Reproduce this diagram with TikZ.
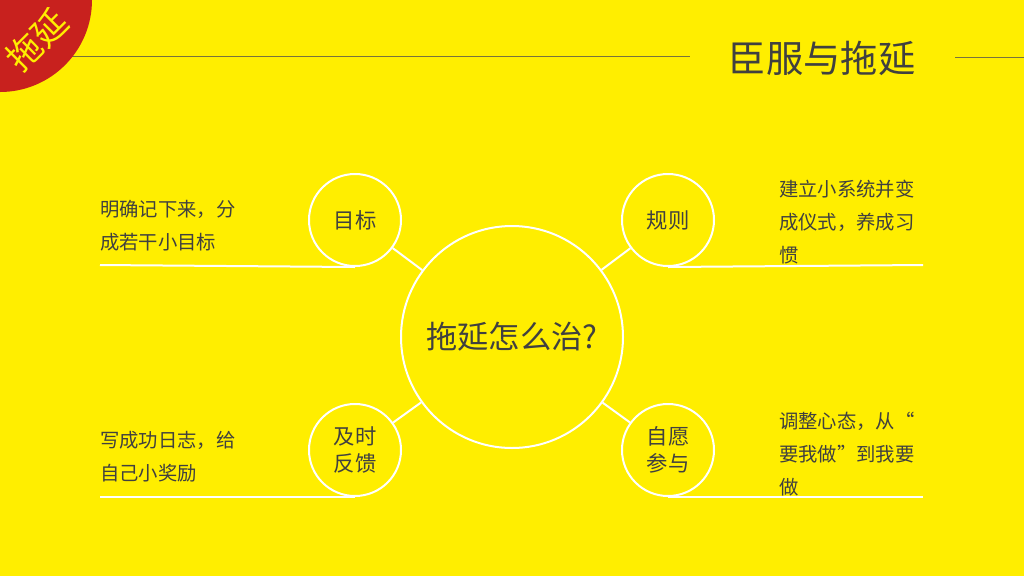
\documentclass[tikz,border=0pt]{standalone}
\usepackage{fontspec}
\newfontfamily\cjk{Noto Sans CJK SC}
\definecolor{bgy}{RGB}{255,238,0}
\definecolor{redc}{RGB}{200,33,30}
\definecolor{txt}{RGB}{64,64,64}
\definecolor{rule}{RGB}{120,115,60}
\begin{document}
\begin{tikzpicture}[x=0.75pt,y=-0.75pt,
  ring/.style={circle,draw=white,line width=1.5pt,inner sep=0pt,text=txt,align=center},
  smallring/.style={ring,minimum size=69pt,font=\cjk\fontsize{16}{20}\selectfont},
  bigring/.style={ring,minimum size=166.5pt,font=\cjk\fontsize{23.5}{28}\selectfont},
  conn/.style={draw=white,line width=1.5pt},
  base/.style={draw=white,line width=1.5pt},
  desc/.style={text=txt,align=left,inner sep=0pt,anchor=west,font=\cjk\fontsize{14.5}{25}\selectfont},
  topline/.style={draw=rule,line width=0.7pt}]
\fill[bgy] (0,0) rectangle (1024,576);
\useasboundingbox (0,0) rectangle (1024,576);
% top rules
\coordinate (tla) at (0,56);
\coordinate (tlb) at (690,56);
\coordinate (tra) at (955,57);
\coordinate (trb) at (1024,57);
\draw[topline] (tla) -- (tlb);
\draw[topline] (tra) -- (trb);
% red corner badge
\fill[redc] (0,0) circle[radius=92];
\node[rotate=45,text=bgy,font=\cjk\fontsize{26}{30}\selectfont,inner sep=0pt] (badge) at (37,40) {拖延};
% title
\node[text=txt,font=\cjk\fontsize{28}{32}\selectfont,inner sep=0pt] (title) at (822,58) {臣服与拖延};
% circles
\node[bigring] (c) at (512,337) {拖延怎么治?};
\node[smallring] (g1) at (355,220) {目标};
\node[smallring] (g2) at (668,220) {规则};
\node[smallring] (g3) at (355,450) {及时\\反馈};
\node[smallring] (g4) at (668,450) {自愿\\参与};
\draw[conn] (c) -- (g1);
\draw[conn] (c) -- (g2);
\draw[conn] (c) -- (g3);
\draw[conn] (c) -- (g4);
% base lines
\coordinate (l1) at (100,265);
\coordinate (r1) at (923,265);
\coordinate (l2) at (100,497);
\coordinate (r2) at (923,497);
\draw[base] (l1) -- (g1.south);
\draw[base] (g2.south) -- (r1);
\draw[base] (l2) -- (g3.south);
\draw[base] (g4.south) -- (r2);
% descriptions
\node[desc] (d1) at (100,226) {明确记下来，分\\成若干小目标};
\node[desc] (d2) at (779,222) {建立小系统并变\\成仪式，养成习\\惯};
\node[desc] (d3) at (100,457) {写成功日志，给\\自己小奖励};
\node[desc] (d4) at (779,454) {调整心态，从“\\要我做”到我要\\做};
\end{tikzpicture}
\end{document}
